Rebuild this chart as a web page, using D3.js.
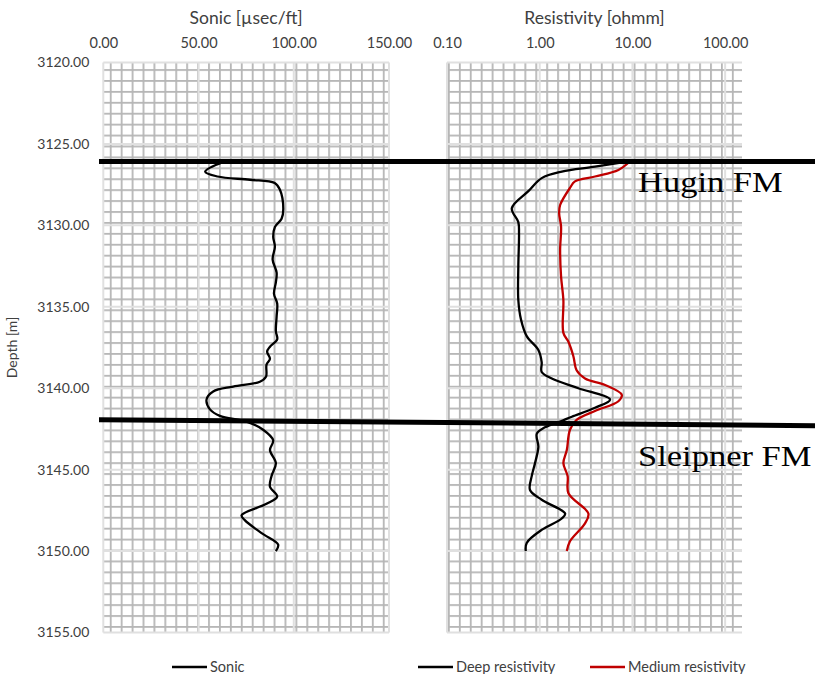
<!DOCTYPE html>
<html>
<head>
<meta charset="utf-8">
<script src="https://cdn.jsdelivr.net/npm/d3@7"></script>
<style>
  html, body { margin: 0; padding: 0; background: #fff; }
  svg { display: block; }
</style>
</head>
<body>
<svg id="chart" width="815" height="674"></svg>
<script>
// ---------------- DATA ----------------
const depthTicks = [3120, 3125, 3130, 3135, 3140, 3145, 3150, 3155];
const sonicTicks = [0, 50, 100, 150];
const resTicks = [0.1, 1, 10, 100];

const sonicDepth = [3126.1, 3126.7, 3127.0, 3127.2, 3127.4, 3127.8, 3129.0, 3129.6, 3130.1, 3130.7,
  3131.3, 3132.1, 3132.9, 3133.5, 3134.2, 3134.8, 3135.6, 3136.5, 3137.0, 3137.45,
  3137.75, 3138.2, 3138.55, 3139.3, 3139.6, 3139.9, 3140.2, 3140.7, 3141.3, 3141.7,
  3142.05, 3142.55, 3143.2, 3143.8, 3144.6, 3145.4, 3146.05, 3146.65, 3147.1, 3147.8,
  3148.1, 3148.9, 3149.6, 3150.0];
const sonicValue = [63, 53.5, 60, 77, 90, 92.7, 94.5, 93.6, 90.1, 89.2,
  90.1, 88.9, 91.0, 90.6, 89.6, 91.3, 91.0, 90.6, 91.3, 87.5,
  86.0, 87.5, 85.7, 85.4, 82.2, 68.2, 57.7, 54.2, 56.0, 61.2,
  75.2, 83.9, 89.2, 87.5, 90.6, 88.3, 87.5, 91.3, 85.7, 72.6,
  74.3, 83.1, 91.8, 90.6];

const deepDepth = [3126.05, 3126.4, 3126.7, 3127.1, 3127.9, 3128.95, 3129.8, 3130.5, 3132.5, 3134.6,
  3135.8, 3136.8, 3137.65, 3138.4, 3139.0, 3139.4, 3140.0, 3140.7, 3141.2, 3141.75,
  3142.05, 3142.4, 3142.8, 3143.6, 3144.6, 3145.4, 3146.25, 3146.85, 3147.7, 3148.0,
  3148.7, 3149.5, 3150.0];
const deepValue = [9.5, 3.95, 1.73, 1.05, 0.754, 0.50, 0.588, 0.598, 0.588, 0.588,
  0.629, 0.724, 0.967, 1.05, 1.05, 1.35, 2.61, 5.74, 3.95, 2.22,
  1.66, 1.14, 0.93, 0.967, 0.89, 0.82, 0.786, 1.05, 1.88, 1.73,
  1.05, 0.724, 0.707];

const medDepth = [3126.05, 3126.6, 3127.0, 3127.3, 3127.7, 3128.75, 3129.25, 3130.1, 3131.5, 3133.15,
  3134.6, 3136.6, 3137.15, 3138.05, 3138.9, 3139.4, 3139.8, 3140.4, 3140.8, 3141.4,
  3141.95, 3142.55, 3143.8, 3144.6, 3145.4, 3146.45, 3147.7, 3148.3, 3149.4, 3150.0];
const medValue = [9.5, 7.06, 3.95, 2.40, 2.12, 1.66, 1.62, 1.70, 1.66, 1.70,
  1.80, 1.80, 2.04, 2.31, 2.50, 3.08, 5.07, 7.67, 7.06, 3.95,
  2.50, 2.12, 1.96, 1.80, 2.0, 2.04, 3.35, 3.08, 2.12, 1.96];

const formationNames = ["Hugin FM", "Sleipner FM"];
const formationDepthLeft = [3126.08, 3141.93];
const formationDepthRight = [3126.08, 3142.3];
const formationLabelDepth = [3127.93, 3144.77];

const legendNames = ["Sonic", "Deep resistivity", "Medium resistivity"];
const seriesColors = ["#000000", "#000000", "#c00000"];

// ---------------- LAYOUT ----------------
const svg = d3.select("#chart");
const plotTop = 62.5, plotBottom = 632.5;
const sonicLeft = 103.3, sonicRight = 389;
const resLeft = 447, resRight = 742;
const resMax = 152;
const font = "Lato, 'Open Sans', sans-serif";
const textColor = "#404040";

const y = d3.scaleLinear().domain([3120, 3155]).range([plotTop, plotBottom]);
const xs = d3.scaleLinear().domain([0, 150]).range([sonicLeft, sonicRight]);
const xr = d3.scaleLog().domain([0.1, resMax]).range([resLeft, resRight]);

// Pattern (small grid fill of plot areas)
const cell = 10.92, lw = 1.8;
const defs = svg.append("defs");
function makePattern(id, ox, oy) {
  const p = defs.append("pattern").attr("id", id)
    .attr("patternUnits", "userSpaceOnUse")
    .attr("x", ox - lw / 2).attr("y", oy - lw / 2)
    .attr("width", cell).attr("height", cell);
  p.append("rect").attr("width", cell).attr("height", cell).attr("fill", "#fff");
  p.append("rect").attr("x", 0).attr("y", 0).attr("width", cell).attr("height", lw).attr("fill", "#b6b6b6");
  p.append("rect").attr("x", 0).attr("y", 0).attr("width", lw).attr("height", cell).attr("fill", "#b6b6b6");
}
makePattern("gridS", 110.7, 70);
makePattern("gridR", 459.8, 70);

function panel(x0, x1, pid, xScale, xTicks) {
  const g = svg.append("g");
  g.append("rect").attr("x", x0).attr("y", plotTop).attr("width", x1 - x0).attr("height", plotBottom - plotTop)
    .attr("fill", `url(#${pid})`);
  g.selectAll(".hmaj").data(depthTicks).join("line")
    .attr("x1", x0).attr("x2", x1).attr("y1", d => y(d)).attr("y2", d => y(d))
    .attr("stroke", "#e0e0e0").attr("stroke-width", 2);
  g.selectAll(".vmaj").data(xTicks).join("line")
    .attr("x1", d => xScale(d)).attr("x2", d => xScale(d)).attr("y1", plotTop).attr("y2", plotBottom)
    .attr("stroke", "#e0e0e0").attr("stroke-width", 2);
  const ax = svg.append("g").attr("transform", `translate(0,${plotTop})`)
    .call(d3.axisTop(xScale).tickValues(xTicks).tickFormat(d3.format(".2f")).tickSize(0).tickPadding(14.5));
  ax.select(".domain").remove();
  ax.selectAll("text").attr("font-family", font).attr("font-size", 14.5).attr("fill", textColor);
  return g;
}
panel(sonicLeft, sonicRight, "gridS", xs, sonicTicks);
panel(resLeft, resRight, "gridR", xr, resTicks);

const yax = svg.append("g").attr("transform", `translate(${sonicLeft},0)`)
  .call(d3.axisLeft(y).tickValues(depthTicks).tickFormat(d3.format(".2f")).tickSize(0).tickPadding(14));
yax.select(".domain").remove();
yax.selectAll("text").attr("font-family", font).attr("font-size", 14).attr("fill", textColor);

svg.append("text").attr("x", (sonicLeft + sonicRight) / 2).attr("y", 24)
  .attr("text-anchor", "middle").attr("font-family", font).attr("font-size", 17.5).attr("fill", textColor)
  .text("Sonic [µsec/ft]");
svg.append("text").attr("x", (resLeft + resRight) / 2).attr("y", 24)
  .attr("text-anchor", "middle").attr("font-family", font).attr("font-size", 17.5).attr("fill", textColor)
  .text("Resistivity [ohmm]");
svg.append("text").attr("transform", `translate(17,${(plotTop + plotBottom) / 2}) rotate(-90)`)
  .attr("text-anchor", "middle").attr("font-family", font).attr("font-size", 14).attr("fill", textColor)
  .text("Depth [m]");

const sonicData = sonicDepth.map((d, i) => ({ d, v: sonicValue[i] }));
const deepData = deepDepth.map((d, i) => ({ d, v: deepValue[i] }));
const medData = medDepth.map((d, i) => ({ d, v: medValue[i] }));
const curve = d3.curveCatmullRom.alpha(0.5);
const lineS = d3.line().x(p => xs(p.v)).y(p => y(p.d)).curve(curve);
const lineR = d3.line().x(p => xr(p.v)).y(p => y(p.d)).curve(curve);

svg.append("path").datum(sonicData).attr("d", lineS).attr("fill", "none")
  .attr("stroke", seriesColors[0]).attr("stroke-width", 2.3).attr("stroke-linejoin", "round");
svg.append("path").datum(medData).attr("d", lineR).attr("fill", "none")
  .attr("stroke", seriesColors[2]).attr("stroke-width", 2.3).attr("stroke-linejoin", "round");
svg.append("path").datum(deepData).attr("d", lineR).attr("fill", "none")
  .attr("stroke", seriesColors[1]).attr("stroke-width", 2.3).attr("stroke-linejoin", "round");

const markerX0 = 99, markerX1 = 815;
formationNames.forEach((name, i) => {
  svg.append("line").attr("x1", markerX0).attr("x2", markerX1)
    .attr("y1", y(formationDepthLeft[i])).attr("y2", y(formationDepthRight[i]))
    .attr("stroke", "#000").attr("stroke-width", 5);
  svg.append("text")
    .attr("transform", `translate(638,${y(formationLabelDepth[i])}) scale(1.15,1)`)
    .attr("font-family", "'Liberation Serif', 'Times New Roman', serif").attr("font-size", 30)
    .attr("fill", "#000").text(name);
});

const legendX = [172, 418, 590];
const legendY = 667;
legendNames.forEach((name, i) => {
  svg.append("line").attr("x1", legendX[i]).attr("x2", legendX[i] + 35)
    .attr("y1", legendY).attr("y2", legendY)
    .attr("stroke", seriesColors[i]).attr("stroke-width", 2.5);
  svg.append("text").attr("x", legendX[i] + 38).attr("y", legendY + 5)
    .attr("font-family", font).attr("font-size", 14.5).attr("fill", textColor).text(name);
});
</script>
</body>
</html>
